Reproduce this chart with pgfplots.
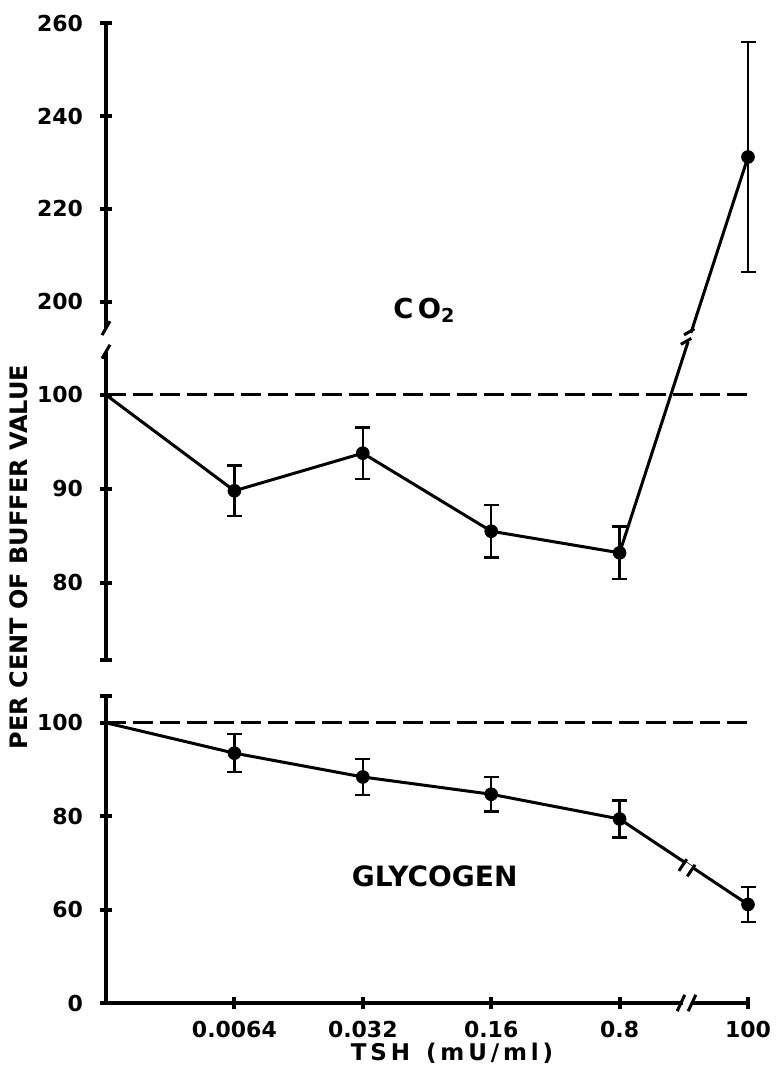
\documentclass[border=0pt]{standalone}
\usepackage{fontspec}
\setmainfont{DejaVu Sans}
\usepackage{pgfplots}
\pgfplotsset{compat=1.18}

\begin{document}
\begin{tikzpicture}[font=\bfseries]
\tikzset{brk/.style={line width=1.5pt, black}}
\pgfplotsset{
  common/.style={
    x=64.2pt, xmin=0, xmax=5.22,
    axis line style={draw=none},
    tick align=inside,
    major tick length=6pt,
    tick style={line width=2pt, black},
    yticklabel style={font=\bfseries\fontsize{11}{13}\selectfont, xshift=-5pt},
    xticklabel style={font=\bfseries\fontsize{11}{13}\selectfont, yshift=-2.5pt},
    clip=false,
  },
  dashline/.style={black, line width=1.5pt, dash pattern=on 10pt off 3.5pt},
  dataline/.style={black, line width=1.5pt},
  ebar/.style={black, line width=1.2pt, mark=-, mark size=3.75pt, mark options={solid, line width=1.2pt}},
  dot/.style={black, only marks, mark=*, mark size=3.2pt},
  co2break/.style={y filter/.expression={y>150 ? 109.9+0.494*(y-200) : y}},
}
% ---------------- bottom panel: glycogen ----------------
\begin{axis}[common,
  at={(0,0)}, anchor=south west,
  y=2.335pt, ymin=40, ymax=105.8,
  axis x line=bottom, axis y line=left,
  xtick={1,2,3,4,5}, xticklabels={0.0064,0.032,0.16,0.8,100},
  ytick={40,60,80,100}, yticklabels={0,60,80,100},
  extra y ticks={105.8}, extra y tick labels={},
]
\addplot[dashline] coordinates {(0,100) (5,100)};
\addplot[dataline] coordinates {(0,100) (1,93.5) (2,88.4) (3,84.7) (4,79.4) (5,61.1)};
% error bars (mean +- SE)
\addplot[ebar] coordinates {(1,89.4) (1,97.6)};
\addplot[ebar] coordinates {(2,84.5) (2,92.3)};
\addplot[ebar] coordinates {(3,81.0) (3,88.4)};
\addplot[ebar] coordinates {(4,75.45) (4,83.35)};
\addplot[ebar] coordinates {(5,57.4) (5,64.8)};
\addplot[dot] coordinates {(1,93.5) (2,88.4) (3,84.7) (4,79.4) (5,61.1)};
% axis lines with break
\draw[line width=2pt, line cap=rect] (axis cs:0,105.8) -- (axis cs:0,40) -- (axis cs:4.478,40);
\draw[line width=2pt] (axis cs:4.564,40) -- (axis cs:5,40);
\draw[brk] (axis cs:4.478,40) ++(245:4.5pt) -- ++(65:9pt);
\draw[brk] (axis cs:4.564,40) ++(245:4.5pt) -- ++(65:9pt);
% break on data line
\begin{scope}[shift={(axis cs:4.525,68.95)}]
  \draw[white, line width=4pt] (146.5:2.2pt) -- (-33.5:2.2pt);
  \draw[brk] (146.5:2.5pt) ++(236:3.5pt) -- ++(56:7pt);
  \draw[brk] (-33.5:2.5pt) ++(236:3.5pt) -- ++(56:7pt);
\end{scope}
\node[font=\bfseries\fontsize{14}{16}\selectfont] at (axis cs:2.56,67.2) {GLYCOGEN};
\end{axis}
% ---------------- top panel: CO2 ----------------
\begin{axis}[common,
  at={(0,171.5pt)}, anchor=south west,
  y=4.7pt, ymin=71.8, ymax=139.54,
  axis x line=none, axis y line=left,
  ytick={80,90,100,109.9,119.78,129.66,139.54},
  yticklabels={80,90,100,200,220,240,260},
  extra y ticks={71.8}, extra y tick labels={},
]
\addplot[dashline] coordinates {(0,100) (5,100)};
\addplot[dataline, co2break] coordinates {(0,100) (1,89.8) (2,93.8) (3,85.5) (4,83.2) (5,231.2)};
% error bars (mean +- SE)
\addplot[ebar] coordinates {(1,87.1) (1,92.5)};
\addplot[ebar] coordinates {(2,91.05) (2,96.55)};
\addplot[ebar] coordinates {(3,82.7) (3,88.3)};
\addplot[ebar] coordinates {(4,80.4) (4,86.0)};
\addplot[ebar, co2break] coordinates {(5,206.4) (5,256.0)};
\addplot[dot, co2break] coordinates {(1,89.8) (2,93.8) (3,85.5) (4,83.2) (5,231.2)};
% y axis with break
\draw[line width=2pt] (axis cs:0,71.8) -- (axis cs:0,104.6);
\draw[line width=2pt] (axis cs:0,107.1) -- (axis cs:0,139.54);
\draw[brk] (axis cs:0,104.6) ++(240:4pt) -- ++(60:8pt);
\draw[brk] (axis cs:0,107.1) ++(240:4pt) -- ++(60:8pt);
% break on data line
\begin{scope}[shift={(axis cs:4.53,106.2)}]
  \draw[white, line width=4pt] (251.8:2.2pt) -- (71.8:2.2pt);
  \draw[brk] (251.8:2.5pt) ++(210:3pt) -- ++(30:6pt);
  \draw[brk] (71.8:2.5pt) ++(210:3pt) -- ++(30:6pt);
\end{scope}
\node[font=\bfseries\fontsize{13.7}{15}\selectfont] at (axis cs:2.48,109) {C\,O\textsubscript{2}};
\end{axis}
\node[rotate=90, inner sep=0pt, font=\bfseries\fontsize{12}{14}\selectfont] at (-43.5pt,223pt) {PER CENT OF BUFFER VALUE};
\node[inner sep=0pt, font=\bfseries\fontsize{11.5}{13}\selectfont] at (173pt,-25pt) {T\,S\,H\ \ (\,m\,U\,/\,m\,l\,)};
\path (-53pt,-31.5pt) rectangle (335pt,501.5pt);
\end{tikzpicture}
\end{document}
